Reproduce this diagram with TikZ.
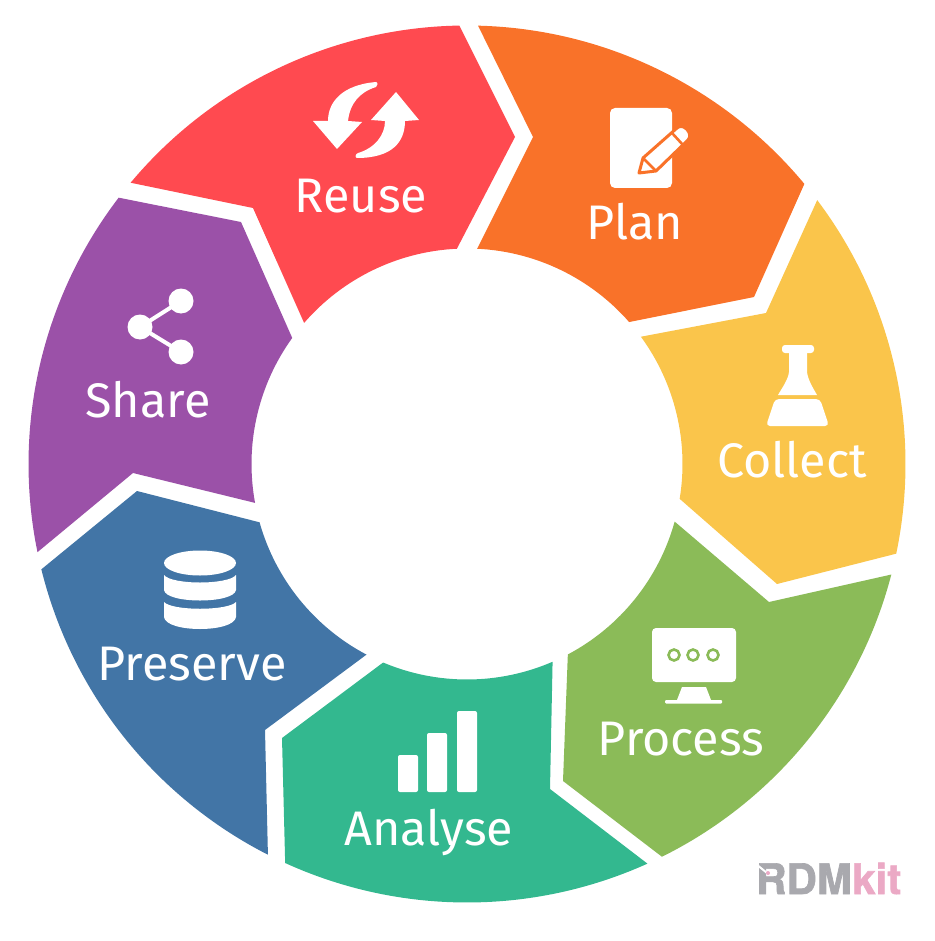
\documentclass[tikz,border=0pt]{standalone}
\usepackage{fontspec}
\setmainfont{Fira Sans}
\newfontfamily\logofont[BoldFeatures={FakeBold=1.6}]{TeX Gyre Heros}
\definecolor{cplan}{HTML}{F97229}
\definecolor{ccollect}{HTML}{FAC54B}
\definecolor{cprocess}{HTML}{8BBB58}
\definecolor{canalyse}{HTML}{33B88F}
\definecolor{cpreserve}{HTML}{4275A6}
\definecolor{cshare}{HTML}{9B51A8}
\definecolor{creuse}{HTML}{FF4A50}
\definecolor{cgrey}{HTML}{A9A9AE}
\definecolor{cpink}{HTML}{EBA9C5}
\newcommand{\Rout}{438.5}
\newcommand{\Rin}{215.5}
% #1 colour, #2,#3 outer angles, #4 point after outer arc, #5,#6 inner angles, #7 point after inner arc
\newcommand{\petal}[7]{%
  \fill[#1] ($(C)+(#2:\Rout)$) arc[start angle=#2,end angle=#3,radius=\Rout] -- #4
    -- ($(C)+(#5:\Rin)$) arc[start angle=#5,end angle=#6,radius=\Rin] -- #7 -- cycle;}
\usetikzlibrary{calc}
\tikzset{
  seglabel/.style={text=white,anchor=base,inner sep=0pt,font=\fontsize{48.5}{48.5}\selectfont},
  icon/.style={fill=white,draw=none},
  logotext/.style={anchor=base west,inner sep=0pt,font=\logofont\bfseries\fontsize{42}{42}\selectfont}
}
\begin{document}
\begin{tikzpicture}[x=1pt,y=-1pt]
\useasboundingbox (0,0) rectangle (934,941);
\coordinate (C) at (467,464);
% segments
\petal{cplan}{-88.56}{-39.7}{(754,297)}{-41.2}{-87.3}{(533,137)}
\petal{ccollect}{-37}{11.8}{(777,584)}{9.3}{-36.2}{(766,313)}
\petal{cprocess}{14.6}{63.6}{(563,781)}{62.1}{15.5}{(769,602)}
\petal{canalyse}{65.7}{114.5}{(282,738)}{112.9}{66.6}{(550,789)}
\petal{cpreserve}{117}{166.1}{(137,491)}{164.3}{117.8}{(265,730)}
\petal{cshare}{168.4}{217.4}{(241,222)}{215.8}{169.6}{(133,473)}
\petal{creuse}{219.9}{269}{(515,137)}{267.3}{220.9}{(253,208)}
% labels
\node[seglabel] (plan) at (635,240) {Plan};
\node[seglabel] (collect) at (792,477) {Collect};
\node[seglabel] (process) at (681,755) {Process};
\node[seglabel] (analyse) at (429,845) {Analyse};
\node[seglabel] (preserve) at (192,680) {Preserve};
\node[seglabel] (share) at (148,417) {Share};
\node[seglabel] (reuse) at (361,213) {Reuse};
% reuse icon
\fill[icon] (376,82) .. controls (342,85) and (328,102) .. (328,121) -- (313,121) -- (337,149) -- (362,122) -- (348,121)
  .. controls (350,103) and (360,92) .. (376,87) .. controls (378,86) and (378,82) .. (376,82) -- cycle;
\fill[icon] (357,158) .. controls (392,158) and (405,142) .. (405,121) -- (419,120) -- (396,92) -- (371,120) -- (385,121)
  .. controls (385,135) and (375,148) .. (358,153) .. controls (355,154) and (355,158) .. (357,158) -- cycle;
% plan icon
\fill[icon,rounded corners=5pt] (610,108) rectangle (672,188);
\draw[fill=white,draw=cplan,line width=3pt,line join=round]
  (639,173) -- (643,158) -- (677,128) .. controls (683,122) and (694,134) .. (688,140) -- (656,171) -- cycle;
\draw[draw=cplan,line width=2.6pt] (643,158) -- (656,171);
\draw[draw=cplan,line width=2.6pt] (672,133) -- (683,145);
% flask
\fill[icon,rounded corners=3pt] (782,345) rectangle (814,353);
\fill[icon] (789,352) -- (807,352) -- (807,372) .. controls (808,380) and (813,388) .. (817,395) -- (778,395) .. controls (782,388) and (788,380) .. (789,372) -- cycle;
\fill[icon,rounded corners=4pt] (775,399) -- (820,399) -- (829,426) -- (766,426) -- cycle;
% monitor
\fill[icon,rounded corners=4pt] (652,628) rectangle (736,682);
\foreach \cx in {674,693,713}{
  \draw[draw=cprocess,line width=2.6pt,fill=white] (\cx,655) circle[radius=5.5];
}
\fill[icon] (682,687) -- (706,687) -- (711,700) -- (677,700) -- cycle;
\fill[icon,rounded corners=1pt] (665,700) rectangle (722,703.5);
% bars
\fill[icon,rounded corners=2pt] (398,755) rectangle (418,792);
\fill[icon,rounded corners=2pt] (427,733) rectangle (447,792);
\fill[icon,rounded corners=2pt] (457,711) rectangle (477,792);
% database
\fill[icon] (200,563) ellipse[x radius=36,y radius=12.5];
\fill[icon] (164,575) .. controls (172,585) and (228,585) .. (236,575) -- (236,590) .. controls (234,604) and (166,604) .. (164,590) -- cycle;
\fill[icon] (164,602) .. controls (172,611) and (228,611) .. (236,602) -- (236,617) .. controls (234,633) and (166,633) .. (164,617) -- cycle;
% share icon
\draw[white,line width=4pt] (181,301) -- (140,327) -- (181,352);
\fill[icon] (181,301) circle[radius=12.5];
\fill[icon] (140,327) circle[radius=12.5];
\fill[icon] (181,352) circle[radius=12.5];
% logo
\node[logotext,text=cgrey] (rdm) at (756,894) {RDM};
\node[logotext,text=cpink] (kit) at (rdm.base east) {kit};
\draw[white,line width=2pt] (756,864) -- (767,873);
\fill[cpink] (768,873) circle[radius=2];
\end{tikzpicture}
\end{document}
